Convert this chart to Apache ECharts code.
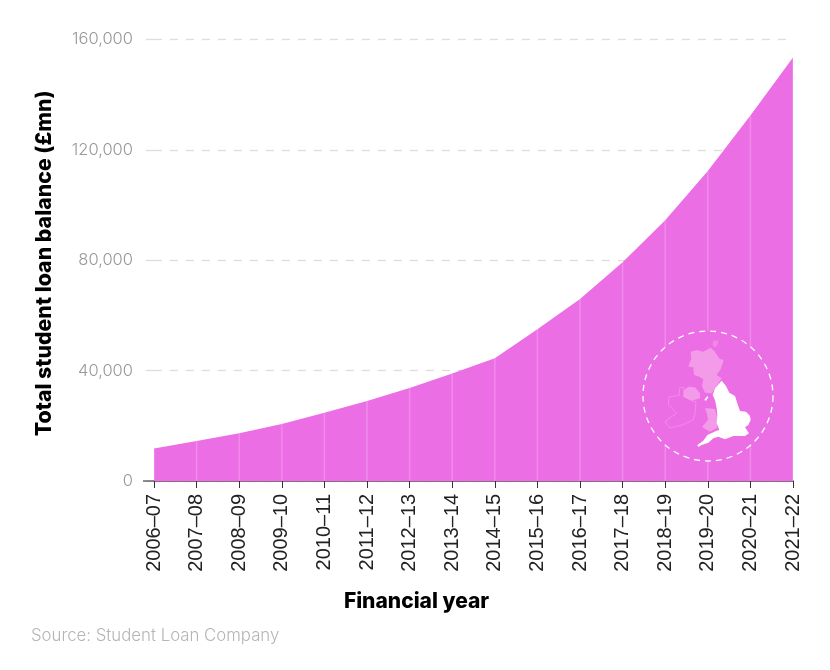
<!DOCTYPE html>
<html>
<head>
<meta charset="utf-8">
<style>
  html, body { margin: 0; padding: 0; background: #fff; }
  #chart { width: 830px; height: 670px; }
</style>
<script src="https://cdn.jsdelivr.net/npm/echarts@6/dist/echarts.min.js"></script>
</head>
<body>
<div id="chart"></div>
<script>
const years = ['2006–07', '2007–08', '2008–09', '2009–10', '2010–11', '2011–12', '2012–13', '2013–14',
  '2014–15', '2015–16', '2016–17', '2017–18', '2018–19', '2019–20', '2020–21', '2021–22'];
const balance = [11800, 14500, 17300, 20700, 24700, 29000, 33700, 39000,
  44500, 55000, 66000, 79300, 94500, 112300, 132500, 153500];
const yTicks = [0, 40000, 80000, 120000, 160000];

// map badge outlines, in a 3x space that gets scaled down in the group below
const england = [[305,212],[318,228],[328,248],[345,258],[352,280],[360,303],[378,305],[390,318],[392,330],[385,345],[375,352],[387,370],[375,378],[340,378],[315,388],[295,380],[280,385],[265,398],[245,405],[235,411],[232,405],[250,392],[262,375],[290,362],[298,360],[290,340],[292,315],[290,295],[285,270],[278,255],[285,235]];
const scotland = [[250,125],[272,113],[285,125],[298,146],[311,150],[302,178],[290,195],[305,205],[285,235],[275,250],[255,248],[246,228],[250,208],[238,200],[222,195],[220,172],[205,170],[214,145],[212,125],[230,120]];
const shetland = [[280,92],[296,92],[288,112],[278,108]];
const wales = [[255,294],[285,297],[291,320],[291,354],[270,365],[246,351],[264,330],[261,312]];
const nIreland = [[205,230],[225,232],[240,250],[240,265],[215,272],[190,260],[192,240]];
const ireland = [[178,234],[192,232],[192,260],[215,272],[228,275],[225,312],[219,330],[186,345],[150,354],[135,335],[152,322],[170,310],[146,285],[146,261],[178,256]];
const isleOfMan = [[262,258],[265,262],[258,272],[253,270]];

const font = 'Inter, "Noto Sans", sans-serif';
const pale = '#f39ae8';
const chart = echarts.init(document.getElementById('chart'));

chart.setOption({
  animation: false,
  backgroundColor: '#fff',
  grid: { left: 154, right: 37, top: 39.5, bottom: 189 },
  xAxis: {
    type: 'category',
    data: years,
    boundaryGap: false,
    name: 'Financial year',
    nameLocation: 'middle',
    nameGap: 110,
    nameTextStyle: { fontFamily: font, fontWeight: 800, fontSize: 21, color: '#000', padding: [0, 114, 0, 0] },
    axisLine: { lineStyle: { color: '#8a6a88', width: 2 } },
    axisTick: { alignWithLabel: true, length: 7, lineStyle: { color: '#333' } },
    axisLabel: {
      rotate: 90, interval: 0, margin: 13,
      fontFamily: '"Liberation Sans", Arial, sans-serif', fontSize: 20, color: '#222'
    }
  },
  yAxis: {
    type: 'value',
    min: 0,
    max: 160000,
    interval: 40000,
    name: 'Total student loan balance (£mn)',
    nameLocation: 'middle',
    nameGap: 99,
    nameTextStyle: { fontFamily: font, fontWeight: 800, fontSize: 21.3, color: '#000', padding: [0, 6, 0, 0] },
    axisLine: { show: false },
    axisTick: { show: true, length: 11, lineStyle: { color: '#ddd', width: 1.3, type: [8, 8] } },
    splitLine: { lineStyle: { color: '#ddd', width: 1.3, type: [8, 8] } },
    axisLabel: {
      margin: 21, fontFamily: font, fontWeight: 300, fontSize: 16.5, color: '#999',
      formatter: v => yTicks.includes(v) ? v.toLocaleString('en-GB') : ''
    }
  },
  series: [
    {
      type: 'line',
      data: balance,
      symbol: 'none',
      lineStyle: { width: 0 },
      areaStyle: { color: '#ec6ee4', opacity: 1 },
      z: 2
    },
    {
      // pale drop lines under each point
      type: 'bar',
      data: balance,
      barWidth: 1.5,
      itemStyle: { color: 'rgba(255,255,255,0.2)' },
      z: 3
    }
  ],
  graphic: [
    {
      // filled so the drop lines stop at the badge edge
      type: 'circle',
      shape: { cx: 708, cy: 396, r: 65 },
      style: { fill: '#ec6ee4', stroke: '#fff', lineWidth: 1.3, lineDash: [6, 5] },
      z: 10
    },
    {
      type: 'group',
      x: 620, y: 310, scaleX: 1 / 3, scaleY: 1 / 3,
      children: [
        { type: 'polygon', z: 11, shape: { points: ireland }, style: { fill: 'none', stroke: pale, lineWidth: 2.5, opacity: 0.8 } },
        { type: 'polygon', z: 11, shape: { points: scotland }, style: { fill: pale } },
        { type: 'polygon', z: 11, shape: { points: shetland }, style: { fill: pale, opacity: 0.6 } },
        { type: 'polygon', z: 11, shape: { points: wales }, style: { fill: pale } },
        { type: 'polygon', z: 11, shape: { points: nIreland }, style: { fill: pale } },
        { type: 'polygon', z: 12, shape: { points: england }, style: { fill: '#fff' } },
        { type: 'polygon', z: 12, shape: { points: isleOfMan }, style: { fill: '#fff' } }
      ]
    },
    {
      // the zero tick is solid, unlike the dashed ones above it
      type: 'line',
      shape: { x1: 143, y1: 481, x2: 154, y2: 481 },
      style: { stroke: '#666', lineWidth: 1.5 },
      z: 10
    },
    {
      type: 'text', x: 31, y: 627,
      style: { text: 'Source: Student Loan Company', fontFamily: font, fontWeight: 300, fontSize: 16.8, fill: '#b5b5b5' }
    }
  ]
});
</script>
</body>
</html>
